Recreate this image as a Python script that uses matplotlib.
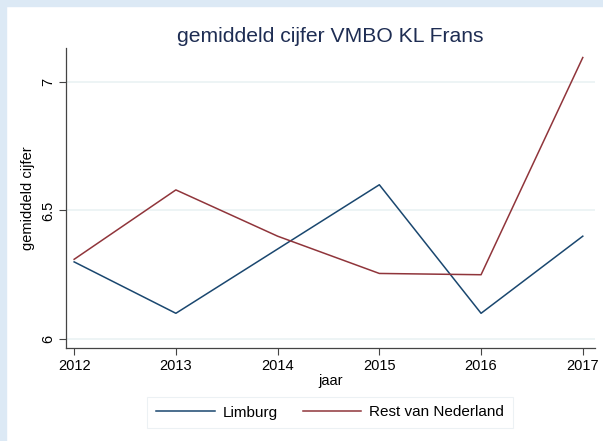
import numpy as np
import matplotlib.pyplot as plt
from matplotlib.patches import Rectangle

jaar = [2012, 2013, 2014, 2015, 2016, 2017]
limburg = [6.30, 6.10, 6.35, 6.60, 6.10, 6.40]
rest_nl = [6.31, 6.58, 6.40, 6.255, 6.25, 7.095]
yticks = [6, 6.5, 7]
ytick_labels = ['6', '6.5', '7']

plt.rcParams['font.family'] = ['Liberation Sans', 'DejaVu Sans']

fig = plt.figure(figsize=(6.03, 4.41), dpi=100)
fig.patch.set_facecolor('white')
# light blue frame at left and top
fig.patches.append(Rectangle((0, 0), 6/603, 1, transform=fig.transFigure, color='#dce9f5', zorder=0))
fig.patches.append(Rectangle((0, 1-6/441), 1, 6/441, transform=fig.transFigure, color='#dce9f5', zorder=0))

ax = fig.add_axes([66/603, 1-348/441, 529/603, 300/441])
ax.plot(jaar, limburg, color='#1a476f', lw=1.1, label='Limburg')
ax.plot(jaar, rest_nl, color='#90353b', lw=1.1, label='Rest van Nederland')

ax.set_xlim(2011.92, 2017.12)
ax.set_ylim(5.965, 7.132)
ax.set_xticks(jaar)
ax.set_yticks(yticks)
ax.set_yticklabels(ytick_labels, rotation=90, va='center')
ax.grid(axis='y', color='#eaf2f3', lw=1.2)
ax.set_axisbelow(True)
for s in ['top', 'right']:
    ax.spines[s].set_visible(False)
for s in ['left', 'bottom']:
    ax.spines[s].set_color('#444444')
    ax.spines[s].set_linewidth(0.9)
ax.tick_params(direction='out', length=5, width=0.8, color='#444444', labelsize=10.5, pad=3)

ax.set_xlabel('jaar', fontsize=10.5, labelpad=1)
ax.set_ylabel('gemiddeld cijfer', fontsize=10.5, labelpad=4)
fig.text(330/603, 1-42/441, 'gemiddeld cijfer VMBO KL Frans', ha='center', va='baseline',
         fontsize=15.2, color='#1e2d53')

leg = fig.legend(loc='center', bbox_to_anchor=(330/603, 1-412.5/441), ncol=2, frameon=True,
                 fancybox=False, fontsize=11, handlelength=3.85, handletextpad=0.52,
                 columnspacing=1.63, borderpad=0.55)
leg.get_frame().set_edgecolor('#e8eef2')
leg.get_frame().set_linewidth(0.8)

plt.savefig('out.png', dpi=100)
